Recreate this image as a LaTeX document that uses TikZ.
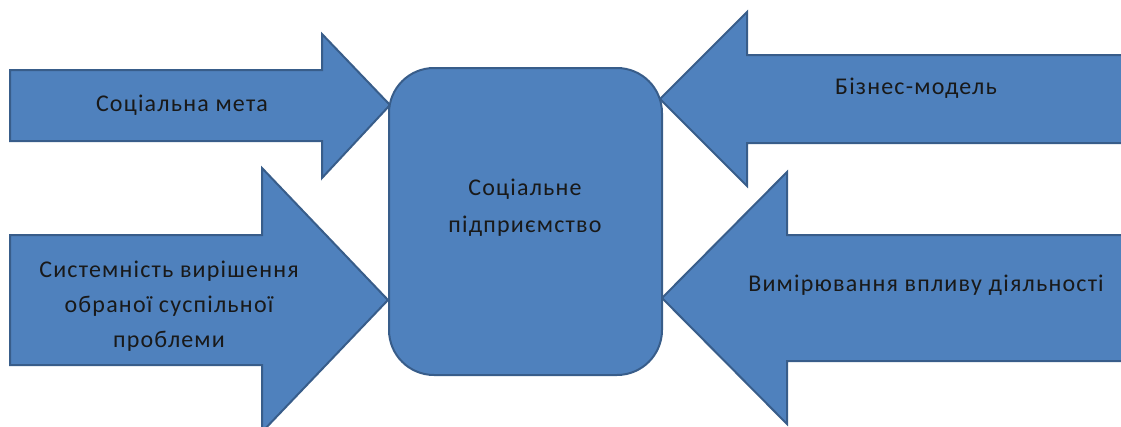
\documentclass[tikz,border=0pt]{standalone}
\usepackage{fontspec}
\setmainfont{Carlito}[LetterSpace=5]
\definecolor{blkfill}{HTML}{4F81BD}
\definecolor{blkline}{HTML}{385D8A}

\begin{document}
\begin{tikzpicture}[x=1pt, y=-1pt,
	blk/.style={fill=blkfill, draw=blkline, line width=2pt, line join=miter},
	lbl/.style={text=black!90, font=\fontsize{24}{35}\selectfont, align=center, inner sep=0pt}]
\useasboundingbox (0,0) rectangle (1121,426);
\clip (0,0) rectangle (1121,426);
% left arrows
	\draw[blk] (10,70) -- (322,70) -- (322,34) -- (390,105) -- (322,178) -- (322,141) -- (10,141) -- cycle;
	\draw[blk] (10,235) -- (262,235) -- (262,168) -- (388,300) -- (262,432) -- (262,365) -- (10,365) -- cycle;
% right arrows
	\draw[blk] (1140,55) -- (747,55) -- (747,12) -- (660,99) -- (747,186) -- (747,143) -- (1140,143) -- cycle;
	\draw[blk] (1140,235) -- (787,235) -- (787,172) -- (662,298) -- (787,424) -- (787,361) -- (1140,361) -- cycle;
% central block
	\draw[blk, rounded corners=45pt] (389,68) rectangle (662,375);
% labels
	\node[lbl] (meta) at (182,105) {Соціальна мета};
	\node[lbl] (biz) at (916,88) {Бізнес-модель};
	\node[lbl] (sys) at (169,306) {Системність вирішення\\обраної суспільної\\проблеми};
	\node[lbl] (vplyv) at (926,285) {Вимірювання впливу діяльності};
	\node[lbl, font=\fontsize{24}{37}\selectfont] (pidpr) at (525,208) {Соціальне\\підприємство};
\end{tikzpicture}
\end{document}
